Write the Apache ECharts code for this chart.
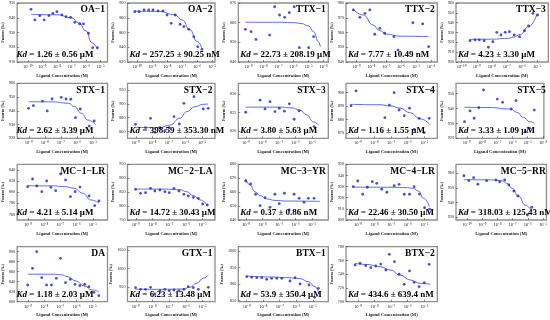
<!DOCTYPE html>
<html><head><meta charset="utf-8">
<script src="https://cdn.jsdelivr.net/npm/echarts@6/dist/echarts.min.js"></script>
<style>html,body{margin:0;padding:0;background:#fff}#c{width:550px;height:320px}</style>
</head><body><div id="c"></div>
<script>
// ---------------- data (x = log10 of ligand concentration in M, y = Fnorm in ‰) ----------------
const panelTitles = ['OA−1','OA−2','TTX−1','TTX−2','TTX−3','STX−1','STX−2','STX−3','STX−4','STX−5',
  'MC−1−LR','MC−2−LA','MC−3−YR','MC−4−LR','MC−5−RR','DA','GTX−1','BTX−1','BTX−2'];
const kdTexts = ['1.26 ± 0.56 μM','257.25 ± 90.25 nM','22.73 ± 208.19 μM','7.77 ± 10.49 nM','4.23 ± 3.30 μM',
  '2.62 ± 3.39 μM','398.59 ± 353.30 nM','3.80 ± 5.63 μM','1.16 ± 1.55 μM','3.33 ± 1.09 μM',
  '4.21 ± 5.14 μM','14.72 ± 30.43 μM','0.37 ± 0.86 nM','22.46 ± 30.50 μM','318.03 ± 125.43 nM',
  '1.18 ± 2.03 μM','6.23 ± 13.48 μM','53.9 ± 350.4 μM','434.6 ± 639.4 nM'];
const xRanges = [[-10.73,-4.53],[-10.67,-4.80],[-9.69,-3.69],[-9.7,-3.57],[-10.38,-4.25],
  [-9.73,-4.09],[-9.5,-4.21],[-9.47,-4.02],[-9.73,-4.21],[-9.71,-3.94],
  [-9.67,-4.09],[-9.5,-4.26],[-9.47,-4.02],[-9.73,-4.21],[-10.73,-4.77],
  [-9.67,-4.08],[-9.5,-4.26],[-9.51,-4.06],[-9.73,-4.21]];
const yRanges = [[910,950],[820,900],[840,870],[940,980],[900,960],
  [920,960],[850,930],[818,833],[866,907],[920,957],
  [750,850],[750,950],[640,680],[900,950],[928,966],
  [800,910],[910,1060],[847,1013],[700,780]];
const yTicks = [[910,920,930,940,950],[820,840,860,880,900],[840,850,860,870],[940,950,960,970,980],[900,910,920,930,940,950,960],
  [920,930,940,950,960],[860,880,900,920],[820,825,830],[870,880,890,900],[920,930,940,950],
  [760,780,800,820,840],[750,800,850,900,950],[640,650,660,670,680],[900,910,920,930,940,950],[930,940,950,960],
  [800,820,840,860,880,900],[950,1000,1050],[850,900,950,1000],[700,720,740,760,780]];

const OA1_pts=[[-9.78,945.7],[-9.51,938.5],[-9.18,941.4],[-8.88,938.5],[-8.55,941.4],[-8.28,943.0],[-8.0,944.1],[-7.66,941.9],[-7.38,940.7],[-7.06,940.3],[-6.78,936.9],[-6.44,935.8],[-6.18,935.8],[-5.84,929.5],[-5.55,919.7],[-5.22,919.7]];
const OA1_fit=[[-9.78,942.3],[-8,942],[-7,940],[-6.5,936.5],[-6,931],[-5.6,923],[-5.22,918.5]];
const OA2_pts=[[-10.18,888.2],[-9.89,888.2],[-9.56,890.5],[-9.25,890.5],[-8.96,890.5],[-8.62,889.2],[-8.29,889.2],[-8.02,883.7],[-7.74,872.5],[-7.47,883.7],[-7.14,871.1],[-6.89,867.9],[-6.56,864.3],[-6.22,854.3],[-5.96,840.8],[-5.67,837.2]];
const OA2_fit=[[-10.18,889],[-8.5,888.5],[-7.5,884],[-7,877],[-6.5,864],[-6.0,848],[-5.67,838]];
const TTX1_pts=[[-9.22,856.6],[-8.84,855.4],[-8.51,851.5],[-7.60,853.7],[-7.27,868.1],[-6.94,863.9],[-6.60,862.7],[-6.29,865.1],[-5.96,868.1],[-5.62,847.3],[-5.0,847.3],[-4.67,852.9]];
const TTX1_fit=[[-9.22,860.2],[-7,860.2],[-6,860],[-5.5,859.6],[-5.0,858.3],[-4.67,855.4],[-4.34,850.3],[-4.22,847.8]];
const TTX2_pts=[[-9.21,975.3],[-8.77,970.3],[-8.43,973.0],[-8.1,975.3],[-7.77,958.8],[-7.43,962.8],[-7.1,959.5],[-6.48,957.2],[-6.21,948.1],[-5.21,966.6],[-4.55,965.8],[-4.15,950.4]];
const TTX2_fit=[[-9.21,975.7],[-8.55,971.9],[-7.88,965.1],[-7.43,961.2],[-6.99,958.8],[-6,957.5],[-4.15,957.2]];
const TTX3_pts=[[-9.45,921.7],[-9.11,922.4],[-8.83,922.4],[-8.51,921.7],[-8.23,915.0],[-7.93,920.6],[-7.67,930.2],[-7.40,927.5],[-7.11,930.2],[-6.83,930.8],[-6.51,927.5],[-6.16,925.7],[-5.83,931.8],[-5.56,936.6],[-5.27,949.5],[-4.96,947.8]];
const TTX3_fit=[[-9.45,923],[-8,923.2],[-7,924],[-6.56,925.3],[-6.11,928],[-5.56,936],[-5.0,948.5]];
const STX1_pts=[[-9.02,941.8],[-8.72,943.7],[-8.15,947.1],[-7.85,939.9],[-7.55,948.6],[-6.98,949.8],[-6.68,948.6],[-6.38,948.4],[-6.09,935.0],[-5.79,941.3],[-5.23,928.9],[-4.92,932.6]];
const STX1_fit=[[-9.02,946.6],[-7.5,946.5],[-6.54,945.5],[-6.14,943],[-5.73,938.2],[-5.32,933.3],[-4.82,929.7]];
const STX2_pts=[[-9.02,870.4],[-8.41,865.4],[-8.11,879.1],[-7.85,858.7],[-7.54,865.4],[-7.24,861.1],[-6.98,865.4],[-6.69,881.4],[-6.37,870.8],[-6.09,900.9],[-5.48,910.5],[-4.92,892.6],[-4.62,893.6]];
const STX2_fit=[[-9.02,866],[-7.54,865.4],[-6.94,869.3],[-6.33,879.1],[-5.92,888.7],[-5.42,896],[-4.92,899.5],[-4.62,899.9]];
const STX3_pts=[[-9.02,825.1],[-8.15,828.4],[-7.85,826.0],[-7.55,828.0],[-7.25,825.3],[-6.99,826.2],[-6.68,825.4],[-6.38,827.4],[-6.09,823.2],[-5.79,825.5],[-4.88,821.2]];
const STX3_fit=[[-9.02,826.5],[-7,826.5],[-6.23,826.3],[-5.73,825.7],[-5.33,824.4],[-4.92,822.5],[-4.62,821.6]];
const STX4_pts=[[-9.43,890.3],[-9.12,901.3],[-7.38,881.4],[-7.11,890.8],[-6.82,900.0],[-6.52,887.1],[-6.21,882.8],[-5.89,888.4],[-5.61,872.7],[-5.31,880.9],[-5.0,870.2],[-4.70,880.9]];
const STX4_fit=[[-9.43,891.3],[-7.67,891],[-7.06,890.2],[-6.46,888.5],[-5.85,885],[-5.24,880.5],[-4.64,876]];
const STX5_pts=[[-9.15,931.2],[-8.79,938.4],[-8.52,933.5],[-8.21,940.6],[-7.90,952.5],[-7.0,946.4],[-6.65,944.2],[-6.08,939.7],[-5.77,945.3],[-5.15,924.4],[-4.88,926.7],[-4.57,939.0]];
const STX5_fit=[[-9.15,940.9],[-7.58,940.7],[-6.13,939.7],[-5.71,937.5],[-5.29,934.1],[-4.88,931.2],[-4.57,930.1]];
const MC1_pts=[[-9.02,809.8],[-8.72,823.6],[-8.46,811.0],[-8.15,800.8],[-7.85,820.0],[-7.59,808.7],[-7.29,802.6],[-6.99,832.6],[-6.68,821.8],[-6.38,791.8],[-6.09,800.8],[-5.79,809.2],[-5.23,793.1],[-4.88,775.7],[-4.62,784.1]];
const MC1_fit=[[-9.02,811.5],[-7.5,811.3],[-6.7,810],[-6.14,807],[-5.63,798],[-5.12,786],[-4.62,780]];
const MC2_pts=[[-9.02,860.2],[-8.72,845.9],[-8.42,848.0],[-8.12,863.8],[-7.86,854.1],[-7.56,857.7],[-7.26,851.6],[-7.0,848.0],[-6.72,863.8],[-6.42,854.1],[-6.12,842.3],[-5.86,836.2],[-5.56,831.5],[-5.26,827.9],[-5.0,807.5],[-4.72,803.9]];
const MC2_fit=[[-9.02,861],[-7.5,861],[-6.36,859],[-5.96,851.6],[-5.56,838],[-5.16,822],[-4.72,804]];
const MC3_pts=[[-9.02,668.0],[-8.72,665.9],[-8.42,658.5],[-8.15,650.3],[-7.85,656.0],[-7.55,649.1],[-7.25,658.5],[-6.99,651.7],[-6.68,659.2],[-6.38,647.2],[-6.09,658.5],[-5.79,655.6],[-5.49,652.7],[-5.23,655.6],[-4.88,655.6]];
const MC3_fit=[[-9.02,669.4],[-8.76,665.1],[-8.46,660.3],[-8.15,657.5],[-7.75,655.1],[-7.25,654.1],[-6.54,653.6],[-4.52,653.4]];
const MC4_pts=[[-9.29,929.9],[-9.02,935.0],[-8.72,923.1],[-8.44,929.4],[-8.14,934.4],[-7.87,932.9],[-7.57,927.6],[-7.26,924.9],[-6.82,930.8],[-6.52,932.0],[-6.21,923.1],[-5.89,923.1],[-5.61,929.9],[-5.29,923.3],[-4.98,911.0],[-4.68,909.8]];
const MC4_fit=[[-9.29,929.5],[-7,929.4],[-6,929],[-5.65,928.3],[-5.35,926],[-5.05,919.5],[-4.68,912]];
const MC5_pts=[[-10.21,958.2],[-9.89,954.8],[-9.57,956.9],[-9.29,952.4],[-8.71,954.8],[-8.10,955.3],[-7.85,954.1],[-7.52,955.3],[-7.25,951.9],[-6.92,947.8],[-6.65,944.4],[-6.02,931.4],[-5.74,936.7]];
const MC5_fit=[[-10.21,955.5],[-8.5,955.4],[-7.7,954.8],[-7.36,953],[-7.03,949.6],[-6.6,944],[-6.17,938.2],[-5.74,933.7]];
const DA_pts=[[-9.02,833.4],[-8.72,866.8],[-8.46,900.0],[-8.15,848.0],[-7.85,833.4],[-7.55,833.4],[-7.25,846.8],[-6.99,886.8],[-6.68,838.0],[-6.38,844.8],[-6.09,834.8],[-5.79,832.0],[-5.49,834.8],[-5.23,830.0],[-4.92,818.8],[-4.62,812.0]];
const DA_fit=[[-9.02,855],[-7.5,855],[-6.94,854],[-6.54,850],[-6.03,841.5],[-5.53,831.5],[-5.02,823.5],[-4.62,820]];
const GTX1_pts=[[-9.02,948.2],[-8.72,943.8],[-8.42,943.8],[-8.12,949.3],[-7.86,931.0],[-7.56,940.0],[-7.26,943.8],[-7.0,940.0],[-6.72,941.9],[-6.42,940.0],[-6.12,943.8],[-5.86,950.9],[-5.56,948.2],[-5.26,943.8],[-4.66,949.3]];
const GTX1_fit=[[-9.02,944],[-7.5,943.8],[-6.16,944.5],[-5.76,949.3],[-5.36,960],[-4.96,974],[-4.66,983]];
const BTX1_pts=[[-9.0,922.5],[-8.70,920.6],[-8.39,919.4],[-8.09,919.4],[-7.79,914.6],[-7.49,917.6],[-7.18,917.6],[-6.88,917.6],[-6.38,909.5],[-6.07,919.4],[-5.77,900.4],[-5.23,897.4],[-4.90,860.3],[-4.66,887.4]];
const BTX1_fit=[[-9.0,924.5],[-7.5,921.5],[-6.5,919.5],[-5.77,916.5],[-5.27,907.4],[-4.86,892.3],[-4.62,869.3]];
const BTX2_pts=[[-9.18,753.4],[-8.88,755.9],[-8.54,752.4],[-8.23,749.5],[-7.93,751.9],[-7.63,754.8],[-7.32,746.1],[-7.11,768.9],[-6.80,758.2],[-6.52,739.9],[-6.21,725.3],[-5.89,744.7],[-5.61,728.2],[-5.31,721.8],[-5.0,727.6],[-4.70,754.4]];
const BTX2_fit=[[-9.18,755.8],[-8.46,754.1],[-7.67,750.9],[-7.06,746.1],[-6.46,738.8],[-5.85,731.6],[-5.24,726.7],[-4.64,725.3]];

const pointSets=[OA1_pts,OA2_pts,TTX1_pts,TTX2_pts,TTX3_pts,STX1_pts,STX2_pts,STX3_pts,STX4_pts,STX5_pts,MC1_pts,MC2_pts,MC3_pts,MC4_pts,MC5_pts,DA_pts,GTX1_pts,BTX1_pts,BTX2_pts];
const fitSets=[OA1_fit,OA2_fit,TTX1_fit,TTX2_fit,TTX3_fit,STX1_fit,STX2_fit,STX3_fit,STX4_fit,STX5_fit,MC1_fit,MC2_fit,MC3_fit,MC4_fit,MC5_fit,DA_fit,GTX1_fit,BTX1_fit,BTX2_fit];

// ---------------- layout ----------------
const colLeft=[14.5,127.5,238.3,346,456], colW=[93,87.5,90,91.3,92.3];
const rowTop=[3,83.3,164.3,246.7], rowH=[59,55,55.7,55];
const SERIF='"Liberation Serif","Times New Roman",serif';
const supMap={'-':'⁻','0':'⁰','1':'¹','2':'²','3':'³','4':'⁴','5':'⁵','6':'⁶','7':'⁷','8':'⁸','9':'⁹'};
const sup=n=>String(n).split('').map(c=>supMap[c]).join('');

const grid=[],xAxis=[],yAxis=[],series=[],title=[];
panelTitles.forEach((name,i)=>{
  const r=Math.floor(i/5), c=i%5;
  const L=colLeft[c], W=colW[c], T=rowTop[r], H=rowH[r];
  grid.push({left:L,top:T,width:W,height:H,show:true,borderColor:'#8e8e8e',borderWidth:1.3,backgroundColor:'#fff',containLabel:false});
  const [x0,x1]=xRanges[i];
  const xt=[]; for(let k=Math.ceil(x0);k<=Math.floor(x1);k++) xt.push(k);
  xAxis.push({gridIndex:i,type:'value',min:x0,max:x1,
    axisLine:{show:false},splitLine:{show:false},
    axisTick:{show:true,inside:true,length:2,customValues:xt,lineStyle:{color:'#444',width:0.6}},
    axisLabel:{customValues:xt,formatter:v=>'10'+sup(v),fontSize:4.5,margin:2.5,fontFamily:SERIF,color:'#222'},
    name:'Ligand Concentration (M)',nameLocation:'middle',nameGap:11,
    nameTextStyle:{fontSize:4.6,fontWeight:'bold',fontFamily:SERIF,color:'#222'}});
  yAxis.push({gridIndex:i,type:'value',min:yRanges[i][0],max:yRanges[i][1],
    axisLine:{show:false},splitLine:{show:false},
    axisTick:{show:true,inside:true,length:2,customValues:yTicks[i],lineStyle:{color:'#444',width:0.6}},
    axisLabel:{customValues:yTicks[i],formatter:v=>String(v),fontSize:4.2,margin:2,fontFamily:SERIF,color:'#222'},
    name:'Fnorm (‰)',nameLocation:'middle',nameRotate:90,nameGap:10,
    nameTextStyle:{fontSize:4.2,fontWeight:'bold',fontFamily:SERIF,color:'#222'}});
  series.push({type:'line',xAxisIndex:i,yAxisIndex:i,data:fitSets[i],smooth:0.5,smoothMonotone:'x',
    showSymbol:false,silent:true,lineStyle:{color:'#5b6de0',width:1},z:2});
  series.push({type:'scatter',xAxisIndex:i,yAxisIndex:i,data:pointSets[i],symbolSize:2.8,
    itemStyle:{color:'#2222c4'},z:3});
  title.push({text:name,right:550-(L+W)+2.5,top:T+2,padding:0,
    textStyle:{fontSize:9.5,fontWeight:'bold',fontFamily:SERIF,color:'#000'}});
  title.push({text:'{i|Kd}{n| = '+kdTexts[i]+'}',left:L+2,top:T+H-12,padding:0,
    textStyle:{rich:{i:{fontSize:9,fontStyle:'italic',fontWeight:'bold',fontFamily:SERIF,color:'#000'},
                     n:{fontSize:9,fontWeight:'bold',fontFamily:SERIF,color:'#000'}}}});
});

const chart=echarts.init(document.getElementById('c'),null,{renderer:'canvas'});
chart.setOption({animation:false,backgroundColor:'#fff',title,grid,xAxis,yAxis,series});
</script></body></html>
